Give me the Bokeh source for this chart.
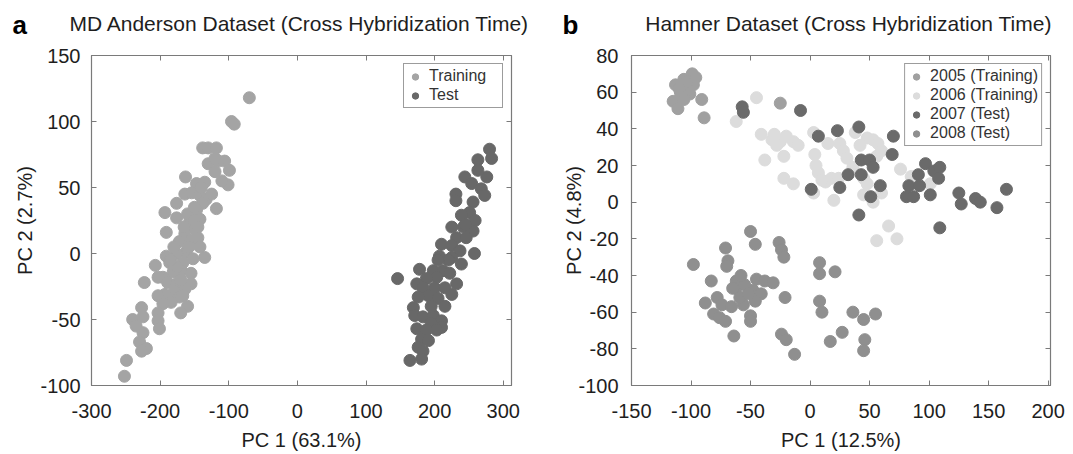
import numpy as np
from bokeh.plotting import figure
from bokeh.models import Range1d, FixedTicker, LinearAxis, Label, Legend, LegendItem
from bokeh.layouts import row, column
from bokeh.embed import file_html
from bokeh.resources import INLINE

FONT = "Liberation Sans"

# ---------------- Panel a data (MD Anderson) ----------------
a_train_x = [-70, -96, -92, -138, -130, -118, -130, -106, -99, -120, -101, -163, -147, -135,
             -164, -154, -142, -133, -176, -138, -118, -193, -176, -147, -142, -157, -150,
             -191, -164, -172, -155, -145, -142, -135, -162, -176, -191, -186, -207, -167,
             -152, -169, -181, -196, -223, -203, -189, -176, -155, -164, -179, -193, -203,
             -172, -184, -196, -167, -203, -227, -240, -225, -203, -201, -225, -235, -230,
             -220, -227, -249, -252, -165, -160, -150, -145, -158, -175, -180, -170, -185,
             -150, -140, -125, -110, -115, -120, -155, -160, -170]
a_train_y = [118, 100, 98, 80, 80, 80, 68, 70, 63, 62, 52, 58, 53, 54, 45, 46, 44, 41, 38,
             38, 34, 31, 27, 33, 26, 24, 19, 16, 15, 9, 10, 12, 5, -3, 1, 0, -2, -7, -9, -7,
             -4, -13, -14, -18, -22, -18, -22, -23, -23, -27, -29, -31, -32, -33, -37, -38,
             -32, -45, -41, -50, -48, -51, -57, -60, -55, -67, -72, -74, -81, -93, 20, 30,
             25, 20, 5, -10, 5, -20, -5, 35, 50, 45, 55, 70, 72, -15, -40, -45]
a_test_x = [280, 283, 263, 276, 263, 244, 254, 268, 273, 231, 231, 256, 251, 239, 259, 225,
            242, 256, 232, 246, 210, 225, 258, 237, 207, 225, 239, 178, 146, 198, 212, 222,
            232, 203, 188, 174, 183, 200, 215, 225, 191, 205, 176, 169, 171, 183, 198, 210,
            210, 195, 174, 188, 203, 181, 191, 176, 183, 164, 181, 220, 245, 205, 215, 195]
a_test_y = [79, 72, 71, 58, 63, 58, 53, 49, 44, 45, 40, 39, 31, 29, 25, 20, 20, 17, 12, 12,
            7, 6, 0, 2, -2, -3, -8, -12, -19, -13, -13, -15, -23, -18, -19, -23, -26, -26,
            -26, -31, -32, -34, -33, -41, -47, -48, -47, -51, -56, -53, -57, -58, -58, -65,
            -66, -71, -74, -81, -80, -5, 22, -5, -40, -40]
a_xticks = [-300, -200, -100, 0, 100, 200, 300]
a_yticks = [-100, -50, 0, 50, 100, 150]

# ---------------- Panel b data (Hamner) ----------------
b05_x = [-99, -106, -113, -104, -98, -109, -101, -115, -106, -111, -91, -89, -25, -103, -110, -96]
b05_y = [70, 67, 64, 63, 64, 60, 59, 55, 56, 51, 56, 46, 54, 66, 62, 68]
b06_x = [-45, -62, -41, -32, -25, -20, -14, -10, -28, -22, -38, -22, -14, 3, 4, 7, 13, 18,
         20, 15, 25, 28, 31, 38, 48, 53, 57, 56, 45, 48, 45, 53, 36, 76, 66, 56, 73, 85,
         101, 3, 24, 42, 60, 60, -30, 5, 10]
b06_y = [57, 44, 37, 34, 33, 36, 33, 31, 31, 25, 23, 13, 10, 38, 26, 16, 11, 13, 1, 32, 32,
         28, 24, 38, 35, 34, 32, 25, 13, 10, 4, 0, 19, 18, -13, -21, -20, 14, 10, 5, 13, 31,
         28, 5, 37, 20, 12]
b07_x = [-57, -56, -8, 7, 23, 41, 70, 69, 32, 43, 50, 43, 53, 1, 25, 59, 51, 41, 97, 91,
         104, 109, 108, 83, 92, 81, 87, 101, 125, 127, 139, 143, 157, 165, 109]
b07_y = [52, 49, 50, 36, 39, 41, 36, 26, 15, 23, 23, 15, 19, 7, 8, 9, 3, -7, 21, 15, 17, 19,
         13, 9, 9, 3, 3, 4, 5, -1, 2, 0, -3, 7, -14]
b08_x = [-50, -46, -71, -26, -24, -22, -98, -69, -70, 8, 8, 21, -83, -62, -45, -38, -31,
         -62, -48, -41, -21, -88, -78, -74, -66, -56, -46, -59, 8, 10, -81, -76, -71, -50,
         -50, 36, 45, 55, -64, -24, -20, -13, 27, 17, 46, 45, -55, -58, -52, -65]
b08_y = [-16, -23, -25, -22, -26, -30, -34, -32, -35, -33, -39, -38, -43, -43, -42, -43,
         -44, -47, -48, -50, -52, -55, -52, -56, -57, -56, -54, -52, -54, -60, -61, -63,
         -65, -62, -65, -60, -64, -61, -73, -72, -75, -83, -71, -76, -75, -81, -45, -40,
         -50, -47]
b_xticks = [-150, -100, -50, 0, 50, 100, 150, 200]
b_yticks = [-100, -80, -60, -40, -20, 0, 20, 40, 60, 80]

AX_COL = "#7a7a7a"
TXT_COL = "#1e1e1e"


def style_axis(ax, ticks, show_labels, standoff):
    ax.ticker = FixedTicker(ticks=ticks)
    ax.axis_line_color = AX_COL
    ax.axis_line_width = 1.2
    ax.major_tick_line_color = AX_COL
    ax.major_tick_in = 5
    ax.major_tick_out = 0
    ax.minor_tick_line_color = None
    if show_labels:
        ax.major_label_overrides = {t: str(t) for t in ticks}
        ax.major_label_text_font = FONT
        ax.major_label_text_font_size = "20px"
        ax.major_label_text_color = TXT_COL
        ax.major_label_standoff = standoff
        ax.axis_label_text_font = FONT
        ax.axis_label_text_font_size = "20px"
        ax.axis_label_text_font_style = "normal"
        ax.axis_label_text_color = TXT_COL
    else:
        ax.major_label_text_font_size = "0px"
        ax.major_label_text_color = None
        ax.major_label_standoff = 0


def make_fig(xr, yr, xticks, yticks, fw, bl, br, xlabel, ylabel, ystand, ylab_stand):
    p = figure(frame_width=fw, frame_height=330,
               x_range=Range1d(*xr), y_range=Range1d(*yr),
               output_backend="svg", toolbar_location=None,
               min_border_left=bl, min_border_right=br,
               min_border_top=10, min_border_bottom=64)
    p.xgrid.visible = False
    p.ygrid.visible = False
    p.outline_line_color = AX_COL
    p.background_fill_color = "white"
    p.border_fill_color = "white"
    style_axis(p.xaxis[0], xticks, True, 18)
    style_axis(p.yaxis[0], yticks, True, ystand)
    p.xaxis[0].axis_label = xlabel
    p.xaxis[0].axis_label_standoff = 8
    p.yaxis[0].axis_label = ylabel
    p.yaxis[0].axis_label_standoff = ylab_stand
    top = LinearAxis()
    style_axis(top, xticks, False, 0)
    p.add_layout(top, "above")
    right = LinearAxis()
    style_axis(right, yticks, False, 0)
    p.add_layout(right, "right")
    return p


def title_strip(width, letter, letter_x, text, text_cx):
    t = figure(width=width, height=45, x_range=Range1d(0, width), y_range=Range1d(0, 45),
               output_backend="svg", toolbar_location=None, min_border=0,
               x_axis_location=None, y_axis_location=None)
    t.xgrid.visible = False
    t.ygrid.visible = False
    t.outline_line_color = None
    t.background_fill_color = "white"
    t.border_fill_color = "white"
    t.add_layout(Label(x=letter_x, y=21, x_units="screen", y_units="screen", text=letter,
                       text_font=FONT, text_font_size="26px", text_font_style="bold",
                       text_color="black", text_align="left", text_baseline="alphabetic"))
    t.add_layout(Label(x=text_cx, y=22, x_units="screen", y_units="screen", text=text,
                       text_font=FONT, text_font_size="21px", text_color=TXT_COL,
                       text_align="center", text_baseline="alphabetic"))
    return t


def style_legend(leg, label_width, glyph_w):
    leg.location = "top_right"
    leg.margin = 8
    leg.padding = 3
    leg.spacing = 1
    leg.label_height = 17
    leg.glyph_height = 17
    leg.glyph_width = glyph_w
    leg.label_standoff = 6
    leg.label_width = label_width
    leg.label_text_font = FONT
    leg.label_text_font_size = "16px"
    leg.label_text_color = "#333333"
    leg.border_line_color = "#3a3a3a"
    leg.border_line_width = 1
    leg.background_fill_color = "white"
    leg.background_fill_alpha = 1.0


# ---------- Panel a ----------
p1 = make_fig((-300, 312), (-100, 150), a_xticks, a_yticks, 420, 91, 29,
              "PC 1 (63.1%)", "PC 2 (2.7%)", 11, 1)
r_tr = p1.scatter(a_train_x, a_train_y, size=12, color="#a4a4a4")
r_te = p1.scatter(a_test_x, a_test_y, size=12, color="#686868")
leg1 = Legend(items=[LegendItem(label="Training", renderers=[r_tr]),
                     LegendItem(label="Test", renderers=[r_te])])
style_legend(leg1, 70, 16)
p1.add_layout(leg1)
t1 = title_strip(540, "a", 12, "MD Anderson Dataset (Cross Hybridization Time)", 299)

# ---------- Panel b ----------
p2 = make_fig((-150, 202), (-100, 80), b_xticks, b_yticks, 419, 91, 15,
              "PC 1 (12.5%)", "PC 2 (4.8%)", 13, -10)
r05 = p2.scatter(b05_x, b05_y, size=12, color="#a0a0a0")
r06 = p2.scatter(b06_x, b06_y, size=12, color="#dcdcdc")
r07 = p2.scatter(b07_x, b07_y, size=12, color="#6a6a6a")
r08 = p2.scatter(b08_x, b08_y, size=12, color="#8f8f8f")
leg2 = Legend(items=[LegendItem(label="2005 (Training)", renderers=[r05]),
                     LegendItem(label="2006 (Training)", renderers=[r06]),
                     LegendItem(label="2007 (Test)", renderers=[r07]),
                     LegendItem(label="2008 (Test)", renderers=[r08])])
style_legend(leg2, 100, 16)
p2.add_layout(leg2)
t2 = title_strip(525, "b", 22, "Hamner Dataset (Cross Hybridization Time)", 308)

layout = column(row(t1, t2), row(p1, p2))
open("out.html", "w").write(file_html(layout, INLINE))
